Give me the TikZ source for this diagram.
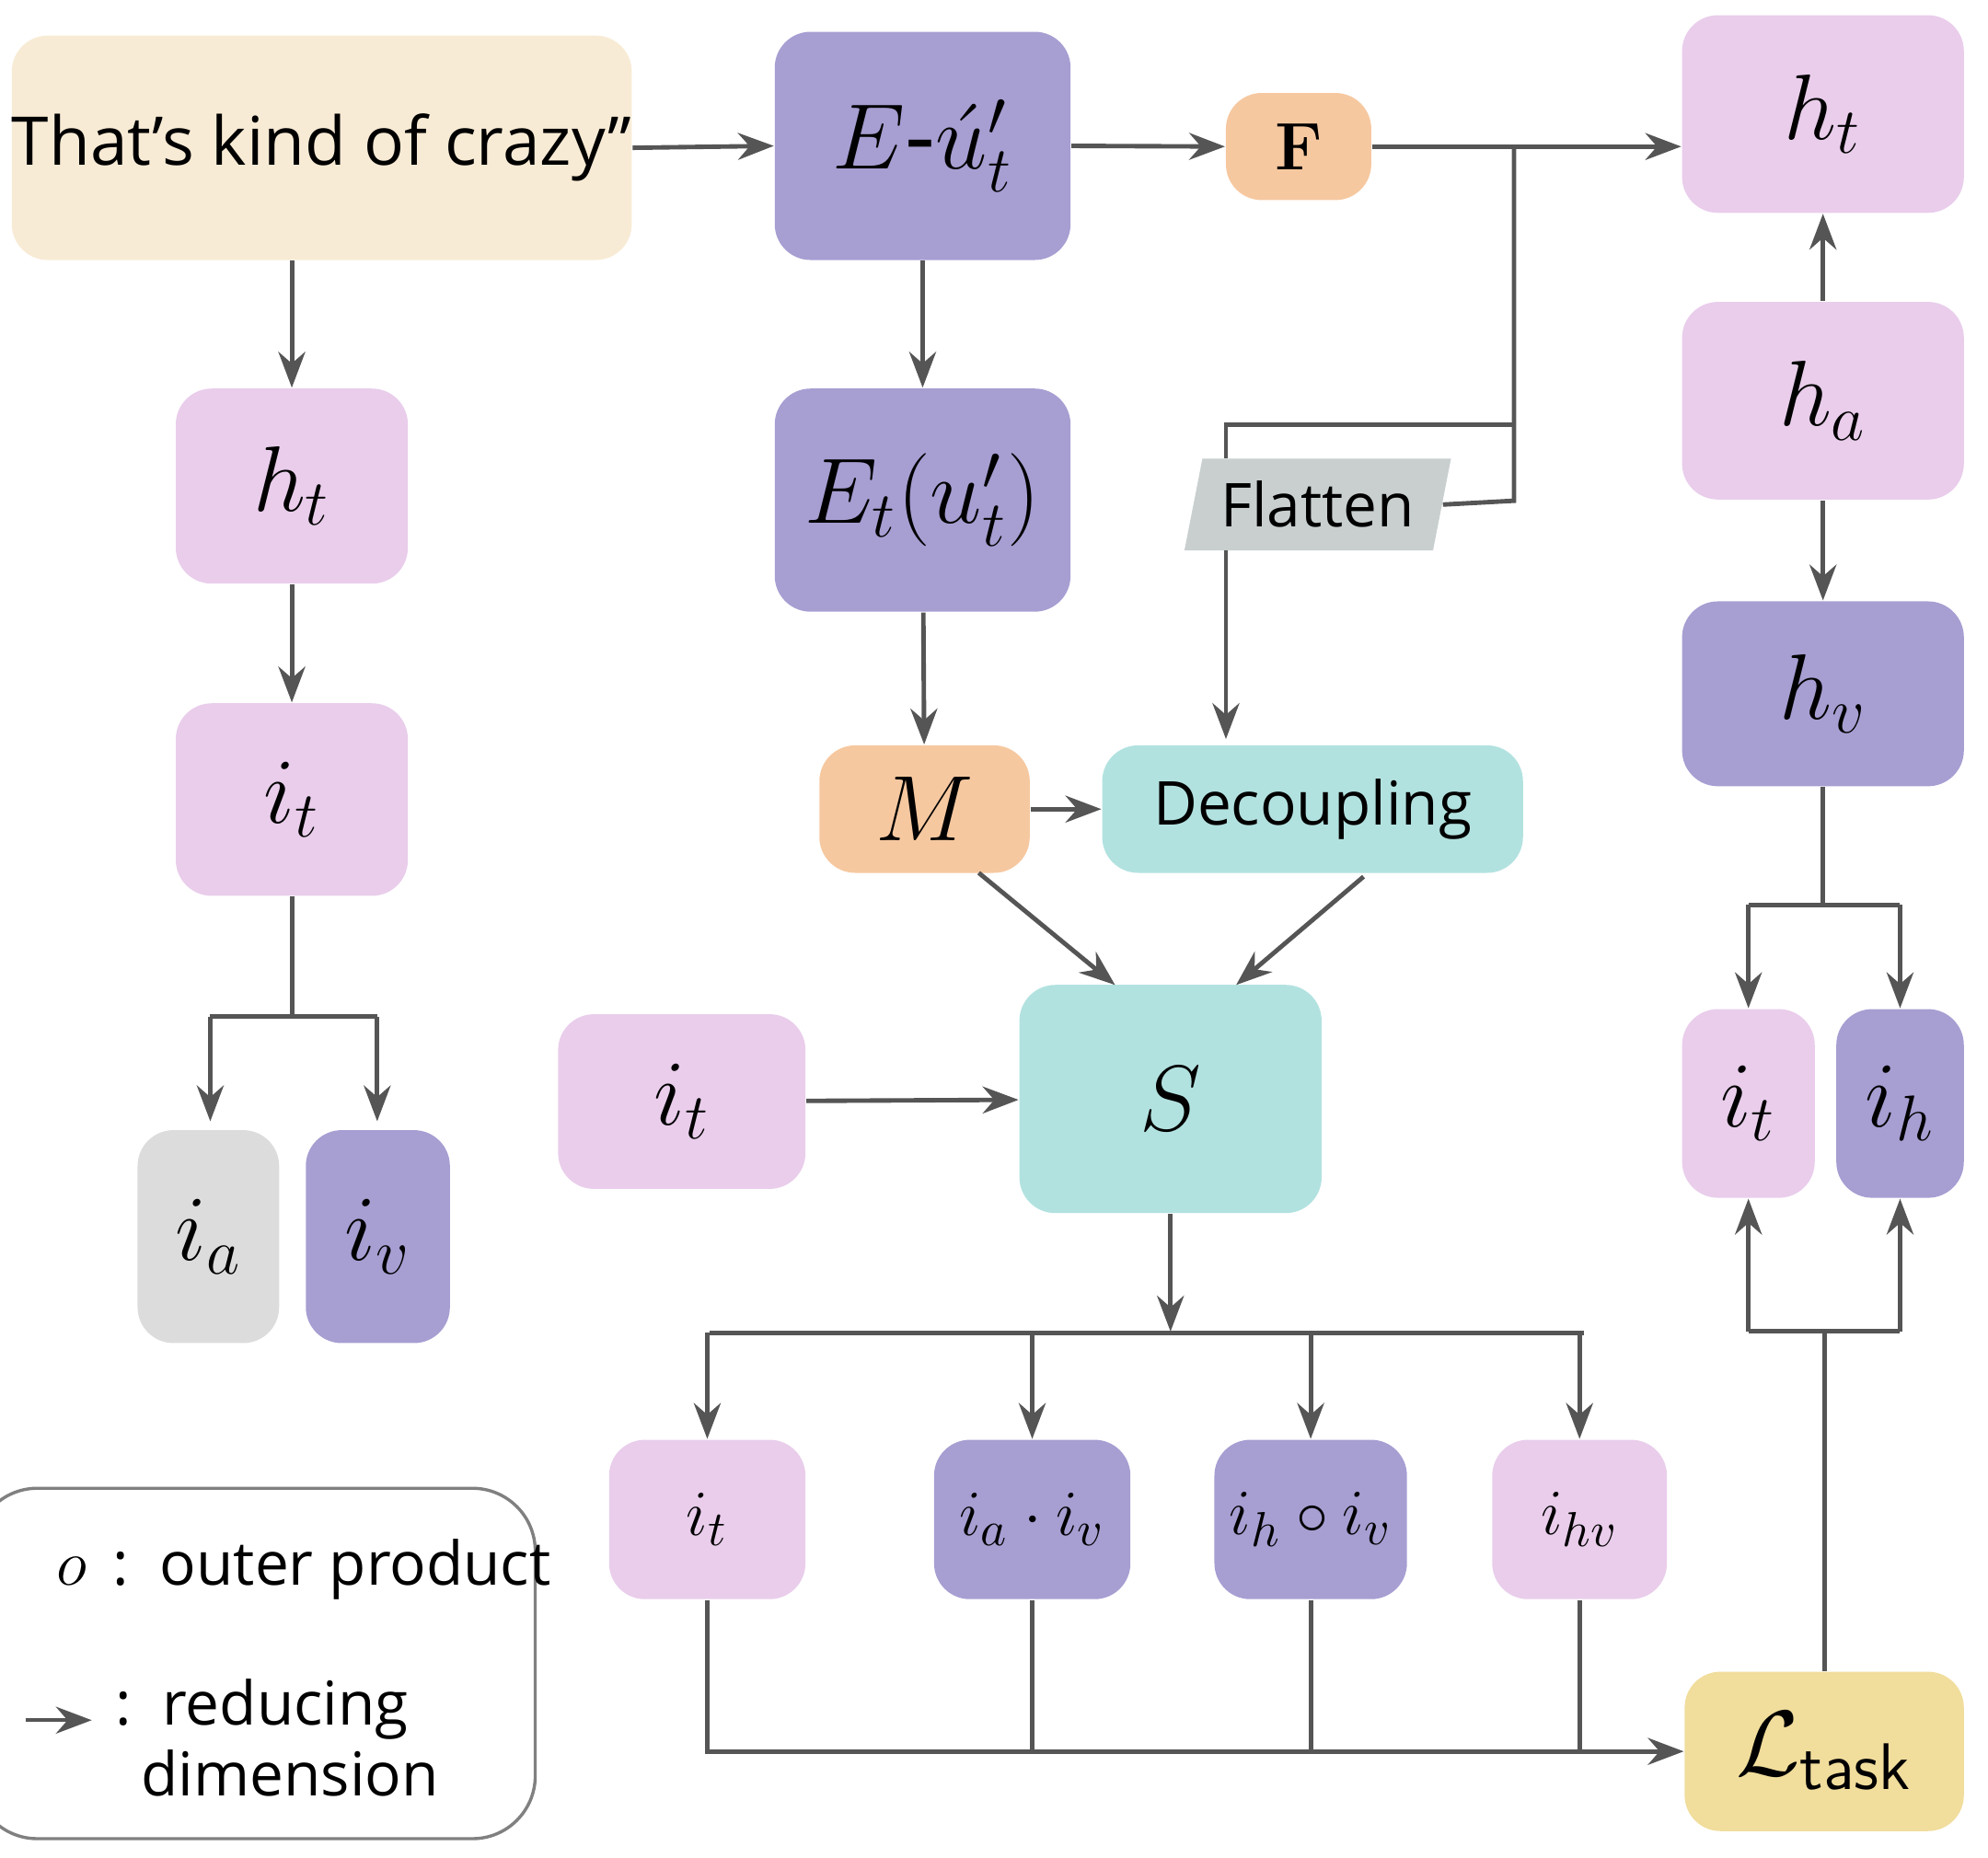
\documentclass[tikz,border=0pt]{standalone}
\usepackage{fontspec}
\setmainfont{Open Sans}
\newfontfamily\serifbf{Latin Modern Roman}
\usepackage{amsmath}
\usetikzlibrary{shapes.geometric,arrows.meta}
\definecolor{pk}{HTML}{E9CDEB}
\definecolor{pu}{HTML}{A79ED2}
\definecolor{bg}{HTML}{F8EBD5}
\definecolor{or}{HTML}{F6C8A0}
\definecolor{tl}{HTML}{B2E2E0}
\definecolor{gy}{HTML}{DCDCDC}
\definecolor{fg}{HTML}{C9CFCF}
\definecolor{yl}{HTML}{F1DD9C}
\definecolor{ln}{HTML}{555555}
\begin{document}
\begin{tikzpicture}[x=0.01cm,y=-0.01cm,
 box/.style={rounded corners=8pt,draw=none,inner sep=0pt,font=\fontsize{21}{23}\selectfont},
 sm/.style={font=\fontsize{15}{17}\selectfont},
 tx/.style={font=\fontsize{13.5}{16}\selectfont},
 c/.style={draw=ln,line width=1pt},
 a/.style={c,-{Stealth[length=8pt,width=6pt]}}]
\useasboundingbox (0,0) rectangle (1560,1458);
\node[box,fill=bg,minimum width=4.69cm,minimum height=1.76cm,font=\fontsize{15}{17}\selectfont] (txt) at (252.5,116) {That's kind of crazy"};
\node[box,fill=pu,minimum width=2.32cm,minimum height=1.79cm] (E) at (724,114.5) {$E\text{-}\acute{u}'_t$};
\node[box,fill=or,minimum width=1.14cm,minimum height=0.84cm,sm] (F) at (1019,115) {\serifbf\bfseries F};
\node[box,fill=pk,minimum width=2.21cm,minimum height=1.55cm] (ht2) at (1430.5,89.5) {$h_t$};
\node[box,fill=pk,minimum width=2.21cm,minimum height=1.55cm] (ha) at (1430.5,314.5) {$h_a$};
\node[box,fill=pu,minimum width=2.21cm,minimum height=1.45cm] (hv) at (1430.5,544.5) {$h_v$};
\node[box,fill=pk,minimum width=1.82cm,minimum height=1.53cm] (ht1) at (229,381.5) {$h_t$};
\node[box,fill=pk,minimum width=1.82cm,minimum height=1.51cm] (it1) at (229,627.5) {$i_t$};
\node[box,fill=gy,minimum width=1.11cm,minimum height=1.67cm] (ia) at (163.5,970.5) {$i_a$};
\node[box,fill=pu,minimum width=1.13cm,minimum height=1.67cm] (iv) at (296.5,970.5) {$i_v$};
\node[box,fill=pu,minimum width=2.32cm,minimum height=1.75cm] (Et) at (724,392.5) {$E_t(u'_t)$};
\node[trapezium,trapezium left angle=72,trapezium right angle=108,fill=fg,minimum width=2.1cm,minimum height=0.72cm,inner sep=0pt,trapezium stretches=true,tx] (fl) at (1034,396) {Flatten};
\node[box,fill=or,minimum width=1.65cm,minimum height=1.0cm] (M) at (725.5,635) {$M$};
\node[box,fill=tl,minimum width=3.3cm,minimum height=1.0cm,tx] (dec) at (1030,635) {Decoupling};
\node[box,fill=tl,minimum width=2.37cm,minimum height=1.79cm] (S) at (918.5,862.5) {$S$};
\node[box,fill=pk,minimum width=1.94cm,minimum height=1.37cm] (itm) at (535,864.5) {$i_t$};
\node[box,fill=pk,minimum width=1.04cm,minimum height=1.48cm] (it3) at (1372,866) {$i_t$};
\node[box,fill=pu,minimum width=1.0cm,minimum height=1.48cm] (ih) at (1491,866) {$i_h$};
\node[box,fill=pk,minimum width=1.54cm,minimum height=1.25cm,sm] (b1) at (555,1192.5) {$i_t$};
\node[box,fill=pu,minimum width=1.54cm,minimum height=1.25cm,sm] (b2) at (810,1192.5) {$i_a\cdot i_v$};
\node[box,fill=pu,minimum width=1.51cm,minimum height=1.25cm,sm] (b3) at (1028.5,1192.5) {$i_h\circ i_v$};
\node[box,fill=pk,minimum width=1.37cm,minimum height=1.25cm,sm] (b4) at (1239.5,1192.5) {$i_{hv}$};
\node[box,fill=yl,minimum width=2.19cm,minimum height=1.25cm] (L) at (1431.5,1374.5) {$\mathcal{L}_{\textsf{task}}$};
% legend
\draw[draw=gray,line width=0.7pt,rounded corners=14pt] (-20,1168) rectangle (420,1443);
\node[anchor=west,tx] (lg1) at (32,1232) {$o$\, :\, outer product};
\coordinate (la) at (20,1350); \coordinate (lb) at (72,1350);
\draw[a,line width=0.8pt] (la) -- (lb);
\node[anchor=north west,align=left,tx] (lg2) at (78,1305) {:\, reducing\\\phantom{:\,}dimension};
% connectors
\draw[a] (txt.east) -- (E.west);
\draw[a] (E.east) -- (F.west);
\draw[a] (F.east) -- (F.east -| ht2.west);
\coordinate (j1) at (1188,115);
\draw[c] (j1) -- (1188,393) -- (fl.east);
\draw[c] (1188,333) -- (962,333) -- (962,360);
\draw[a] (962,432) -- (962,580);
\draw[a] (txt.south -| ht1) -- (ht1.north);
\draw[a] (ht1) -- (it1);
\draw[c] (it1.south) -- (229,798);
\draw[a] (165,798) -- (165,880);
\draw[a] (296,798) -- (296,880);
\draw[c] (165,798) -- (296,798);
\draw[a] (E) -- (Et);
\draw[a] (Et) -- (M);
\draw[a] (M) -- (dec);
\draw[a] (768,685) -- (875,773);
\draw[a] (1070,688) -- (970,773);
\draw[a] (itm) -- (S);
\draw[a] (S.south) -- (S.south |- 0,1045);
\draw[c] (557,1046) -- (1243,1046);
\draw[a] (b1.north |- 0,1046) -- (b1.north);
\draw[a] (b2.north |- 0,1046) -- (b2.north);
\draw[a] (b3.north |- 0,1046) -- (b3.north);
\draw[a] (b4.north |- 0,1046) -- (b4.north);
\draw[a] (b1.south) -- (b1.south |- L.west) -- (L.west);
\draw[c] (b2.south) -- (b2.south |- L.west);
\draw[c] (b3.south) -- (b3.south |- L.west);
\draw[c] (b4.south) -- (b4.south |- L.west);
\draw[c] (L.north) -- (L.north |- 0,1045);
\draw[c] (it3.south |- 0,1045) -- (ih.south |- 0,1045);
\draw[a] (it3.south |- 0,1045) -- (it3.south);
\draw[a] (ih.south |- 0,1045) -- (ih.south);
\draw[c] (hv.south) -- (hv.south |- 0,710);
\draw[c] (it3.north |- 0,710) -- (ih.north |- 0,710);
\draw[a] (it3.north |- 0,710) -- (it3.north);
\draw[a] (ih.north |- 0,710) -- (ih.north);
\draw[a] (ha) -- (ht2);
\draw[a] (ha) -- (hv);
\end{tikzpicture}
\end{document}
